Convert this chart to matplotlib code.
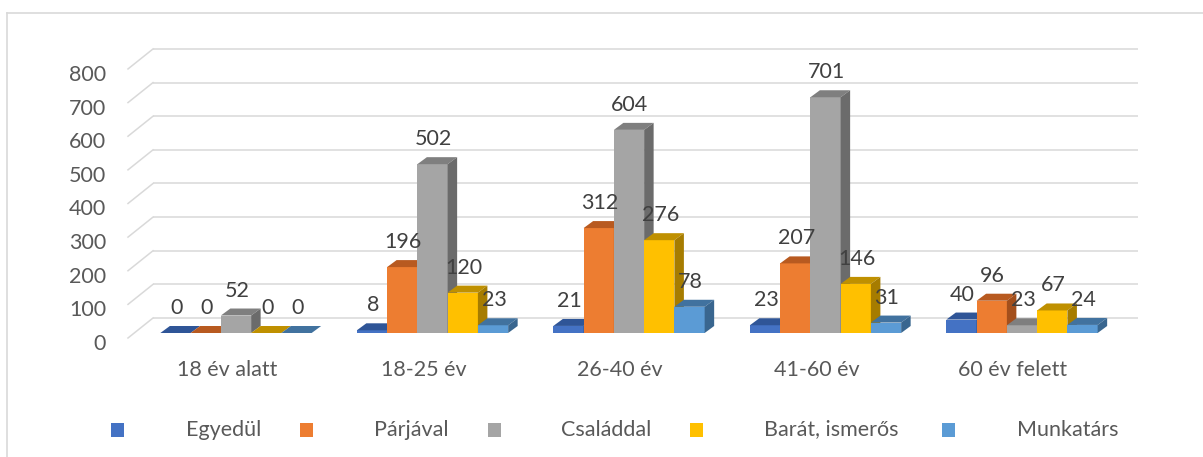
import numpy as np
import matplotlib
matplotlib.use("Agg")
import matplotlib.pyplot as plt
from matplotlib.patches import Polygon, Rectangle
from matplotlib.lines import Line2D

categories = ["18 év alatt", "18-25 év", "26-40 év", "41-60 év", "60 év felett"]
series_names = ["Egyedül", "Párjával", "Családdal", "Barát, ismerős", "Munkatárs"]
egyedul = [0, 8, 21, 23, 40]
parjaval = [0, 196, 312, 207, 96]
csaladdal = [52, 502, 604, 701, 23]
barat = [0, 120, 276, 146, 67]
munkatars = [0, 23, 78, 31, 24]
y_ticks = [0, 100, 200, 300, 400, 500, 600, 700, 800]

series = [egyedul, parjaval, csaladdal, barat, munkatars]
front_cols = ["#4472C4", "#ED7D31", "#A5A5A5", "#FFC000", "#5B9BD5"]
top_cols = ["#2F5597", "#B85A20", "#7F7F7F", "#BF9000", "#41729F"]
side_cols = ["#294C87", "#A34F1C", "#6B6B6B", "#A67C00", "#39668F"]

W, H = 1203, 457
PX_X = 196.5     # pixels per category
PX_Y = 0.3363    # pixels per value unit
X0 = 236         # pixel of first group centre
BASE = 333       # pixel (from top) of bar base
FS = 15.5

fig = plt.figure(figsize=(W / 100, H / 100), dpi=100)
ax = fig.add_axes([128 / W, (H - 400) / H, 1012 / W, 380 / H])
ax.set_xlim((128 - X0) / PX_X, (1140 - X0) / PX_X)
ax.set_ylim((BASE - 400) / PX_Y, (BASE - 20) / PX_Y)
ax.axis("off")

def xd(px):
    return (px - X0) / PX_X

grid_c = "#D9D9D9"
txt_c = "#595959"
lab_c = "#404040"
font = ["Lato", "DejaVu Sans"]

# back wall gridlines with the diagonal floor/side lines
gb = 15 / PX_Y
gf = -5 / PX_Y
for v in y_ticks:
    ax.plot([xd(153), xd(1138)], [v + gb, v + gb], color=grid_c, lw=1.1, zorder=1,
            clip_on=False, solid_capstyle="butt")
    ax.plot([xd(128), xd(153)], [v + gf, v + gb], color=grid_c, lw=1.1, zorder=1,
            clip_on=False)
    ax.text(xd(106), v + gf - 6 / PX_Y, str(v), ha="right", va="center",
            fontsize=FS, color=txt_c, family=font)

# bars with fake depth
bw = 0.154
dx = 9.5 / PX_X
dy = 7 / PX_Y
n = len(series)
for j in range(n):
    vals = series[j]
    for i in range(len(categories)):
        x0 = i - bw * n / 2 + j * bw
        h = vals[i]
        z = 3 + j
        ax.bar(x0, h, width=bw, align="edge", color=front_cols[j], zorder=z, lw=0)
        top = [(x0, h), (x0 + bw, h), (x0 + bw + dx, h + dy), (x0 + dx, h + dy)]
        ax.add_patch(Polygon(top, closed=True, fc=top_cols[j], ec="none", zorder=z))
        side = [(x0 + bw, 0), (x0 + bw + dx, dy), (x0 + bw + dx, h + dy), (x0 + bw, h)]
        ax.add_patch(Polygon(side, closed=True, fc=side_cols[j], ec="none", zorder=z))
        ax.text(x0 + bw / 2 + 1 / PX_X, h + 25 / PX_Y, str(h), ha="center", va="center",
                fontsize=FS, color=lab_c, family=font, zorder=20)

# category labels
for i, c in enumerate(categories):
    ax.text(i - 9 / PX_X, (BASE - 370) / PX_Y, c, ha="center", va="center",
            fontsize=FS, color=txt_c, family=font)

# legend
sq_left = [111, 300, 488, 690, 942]
tx_left = [186, 374, 561, 764, 1017]
ly = 429.5
for j in range(n):
    fig.add_artist(Rectangle((sq_left[j] / W, (H - ly - 7) / H), 13 / W, 14 / H,
                             transform=fig.transFigure, fc=front_cols[j], ec="none"))
    fig.text(tx_left[j] / W, (H - ly) / H, series_names[j], ha="left", va="center",
             fontsize=FS, color=txt_c, family=font)

# chart border
fig.add_artist(Line2D([7 / W, 7 / W], [0, (H - 13) / H], transform=fig.transFigure,
                      color=grid_c, lw=1.2))
fig.add_artist(Line2D([7 / W, 1], [(H - 13) / H, (H - 13) / H], transform=fig.transFigure,
                      color=grid_c, lw=1.2))

fig.savefig("out.png", dpi=100)
